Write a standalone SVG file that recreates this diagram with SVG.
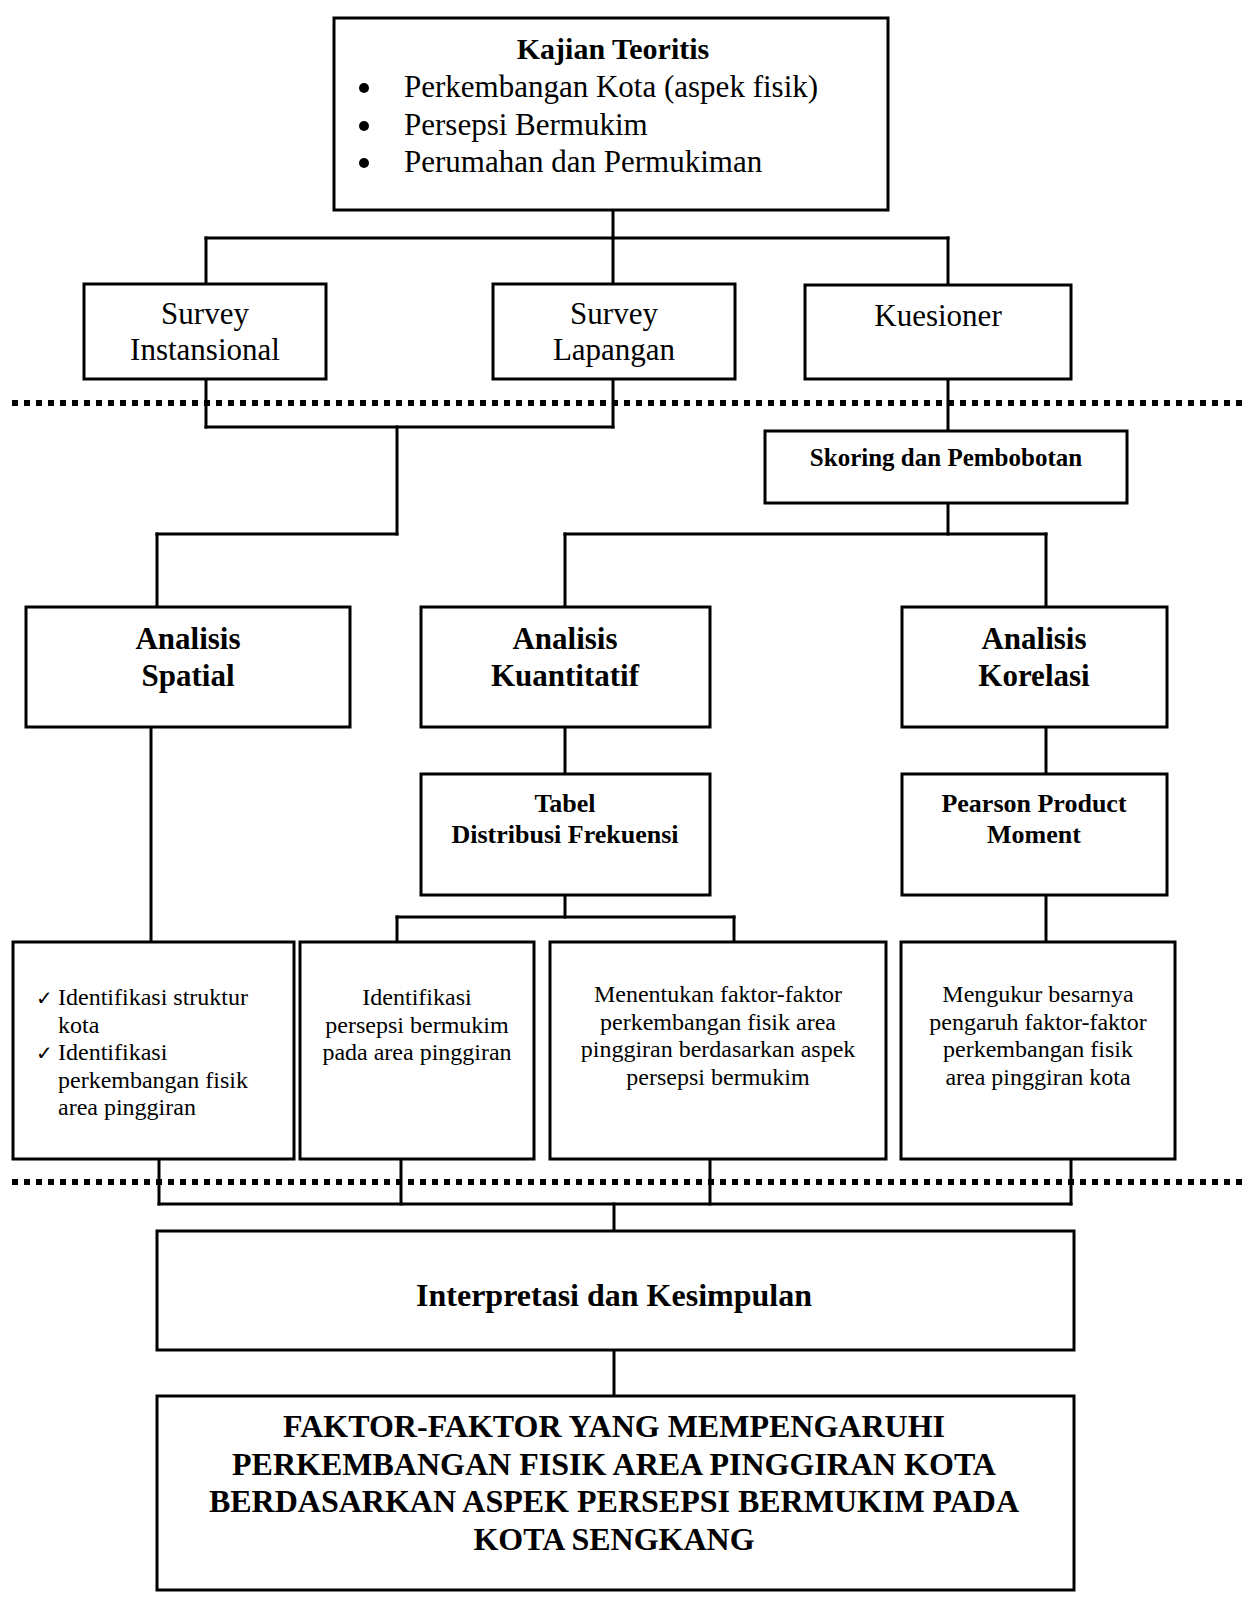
<svg xmlns="http://www.w3.org/2000/svg" width="1244" height="1608" viewBox="0 0 1244 1608">
<style>
.box{fill:#fff;stroke:#000;stroke-width:3}
.t{font-family:"Liberation Serif","Times New Roman",serif;fill:#000}
.c{text-anchor:middle}
.b{font-weight:bold}
.conn line{stroke:#000;stroke-width:3;stroke-linecap:square}
.dot{stroke:#000;stroke-width:6;stroke-dasharray:6 6}
</style>
<rect width="1244" height="1608" fill="#fff"/>
<g id="separators">
<line class="dot" x1="12" y1="403" x2="1244" y2="403"/>
<line class="dot" x1="12" y1="1182" x2="1244" y2="1182"/>
</g>
<g class="conn" id="connectors">
<line x1="613" y1="210" x2="613" y2="238"/>
<line x1="206" y1="238" x2="948" y2="238"/>
<line x1="206" y1="238" x2="206" y2="284"/>
<line x1="613" y1="238" x2="613" y2="284"/>
<line x1="948" y1="238" x2="948" y2="285"/>
<line x1="206" y1="380" x2="206" y2="427"/>
<line x1="613" y1="380" x2="613" y2="427"/>
<line x1="206" y1="427" x2="613" y2="427"/>
<line x1="397" y1="427" x2="397" y2="534"/>
<line x1="157" y1="534" x2="397" y2="534"/>
<line x1="157" y1="534" x2="157" y2="607"/>
<line x1="948" y1="380" x2="948" y2="431"/>
<line x1="948" y1="504" x2="948" y2="534"/>
<line x1="565" y1="534" x2="1046" y2="534"/>
<line x1="565" y1="534" x2="565" y2="607"/>
<line x1="1046" y1="534" x2="1046" y2="607"/>
<line x1="151" y1="727" x2="151" y2="942"/>
<line x1="565" y1="727" x2="565" y2="774"/>
<line x1="565" y1="895" x2="565" y2="917"/>
<line x1="397" y1="917" x2="734" y2="917"/>
<line x1="397" y1="917" x2="397" y2="942"/>
<line x1="734" y1="917" x2="734" y2="942"/>
<line x1="1046" y1="727" x2="1046" y2="774"/>
<line x1="1046" y1="895" x2="1046" y2="942"/>
<line x1="159" y1="1159" x2="159" y2="1204"/>
<line x1="401" y1="1159" x2="401" y2="1204"/>
<line x1="710" y1="1159" x2="710" y2="1204"/>
<line x1="1071" y1="1159" x2="1071" y2="1204"/>
<line x1="159" y1="1204" x2="1071" y2="1204"/>
<line x1="614" y1="1204" x2="614" y2="1231"/>
<line x1="614" y1="1350" x2="614" y2="1396"/>
</g>
<g id="kajian">
<rect class="box" x="334" y="18" width="554" height="192"/>
<text class="t c b" x="613" y="59" font-size="30">Kajian Teoritis</text>
<g class="t" font-size="31">
<circle cx="364" cy="88" r="5"/>
<circle cx="364" cy="126" r="5"/>
<circle cx="364" cy="163" r="5"/>
<text x="404" y="97">Perkembangan Kota (aspek fisik)</text>
<text x="404" y="135">Persepsi Bermukim</text>
<text x="404" y="172">Perumahan dan Permukiman</text>
</g>
</g>
<g id="survey-instansional">
<rect class="box" x="84" y="284" width="242" height="95"/>
<text class="t c" x="205" y="324" font-size="31">Survey</text>
<text class="t c" x="205" y="360" font-size="31">Instansional</text>
</g>
<g id="survey-lapangan">
<rect class="box" x="493" y="284" width="242" height="95"/>
<text class="t c" x="614" y="324" font-size="31">Survey</text>
<text class="t c" x="614" y="360" font-size="31">Lapangan</text>
</g>
<g id="kuesioner">
<rect class="box" x="805" y="285" width="266" height="94"/>
<text class="t c" x="938" y="326" font-size="31">Kuesioner</text>
</g>
<g id="skoring">
<rect class="box" x="765" y="431" width="362" height="72"/>
<text class="t c b" x="946" y="466" font-size="25">Skoring dan Pembobotan</text>
</g>
<g id="analisis-spatial">
<rect class="box" x="26" y="607" width="324" height="120"/>
<text class="t c b" x="188" y="649" font-size="31">Analisis</text>
<text class="t c b" x="188" y="686" font-size="31">Spatial</text>
</g>
<g id="analisis-kuantitatif">
<rect class="box" x="421" y="607" width="289" height="120"/>
<text class="t c b" x="565" y="649" font-size="31">Analisis</text>
<text class="t c b" x="565" y="686" font-size="31">Kuantitatif</text>
</g>
<g id="analisis-korelasi">
<rect class="box" x="902" y="607" width="265" height="120"/>
<text class="t c b" x="1034" y="649" font-size="31">Analisis</text>
<text class="t c b" x="1034" y="686" font-size="31">Korelasi</text>
</g>
<g id="tabel">
<rect class="box" x="421" y="774" width="289" height="121"/>
<text class="t c b" x="565" y="812" font-size="26">Tabel</text>
<text class="t c b" x="565" y="843" font-size="26">Distribusi Frekuensi</text>
</g>
<g id="pearson">
<rect class="box" x="902" y="774" width="265" height="121"/>
<text class="t c b" x="1034" y="812" font-size="26">Pearson Product</text>
<text class="t c b" x="1034" y="843" font-size="26">Moment</text>
</g>
<g id="hasil-spatial" class="t" font-size="24">
<rect class="box" x="13" y="942" width="281" height="217"/>
<text x="36" y="1005" font-family="DejaVu Sans,sans-serif" font-size="20">✓</text>
<text x="58" y="1005">Identifikasi struktur</text>
<text x="58" y="1033">kota</text>
<text x="36" y="1060" font-family="DejaVu Sans,sans-serif" font-size="20">✓</text>
<text x="58" y="1060">Identifikasi</text>
<text x="58" y="1088">perkembangan fisik</text>
<text x="58" y="1115">area pinggiran</text>
</g>
<g id="hasil-persepsi" class="t c" font-size="24">
<rect class="box" x="300" y="942" width="234" height="217"/>
<text x="417" y="1005">Identifikasi</text>
<text x="417" y="1033">persepsi bermukim</text>
<text x="417" y="1060">pada area pinggiran</text>
</g>
<g id="hasil-faktor" class="t c" font-size="24">
<rect class="box" x="550" y="942" width="336" height="217"/>
<text x="718" y="1002">Menentukan faktor-faktor</text>
<text x="718" y="1030">perkembangan fisik area</text>
<text x="718" y="1057">pinggiran berdasarkan aspek</text>
<text x="718" y="1085">persepsi bermukim</text>
</g>
<g id="hasil-korelasi" class="t c" font-size="24">
<rect class="box" x="901" y="942" width="274" height="217"/>
<text x="1038" y="1002">Mengukur besarnya</text>
<text x="1038" y="1030">pengaruh faktor-faktor</text>
<text x="1038" y="1057">perkembangan fisik</text>
<text x="1038" y="1085">area pinggiran kota</text>
</g>
<g id="interpretasi">
<rect class="box" x="157" y="1231" width="917" height="119"/>
<text class="t c b" x="614" y="1306" font-size="32">Interpretasi dan Kesimpulan</text>
</g>
<g id="kesimpulan" class="t c b" font-size="32">
<rect class="box" x="157" y="1396" width="917" height="194"/>
<text x="614" y="1437">FAKTOR-FAKTOR YANG MEMPENGARUHI</text>
<text x="614" y="1475">PERKEMBANGAN FISIK AREA PINGGIRAN KOTA</text>
<text x="614" y="1512">BERDASARKAN ASPEK PERSEPSI BERMUKIM PADA</text>
<text x="614" y="1550">KOTA SENGKANG</text>
</g>
</svg>
